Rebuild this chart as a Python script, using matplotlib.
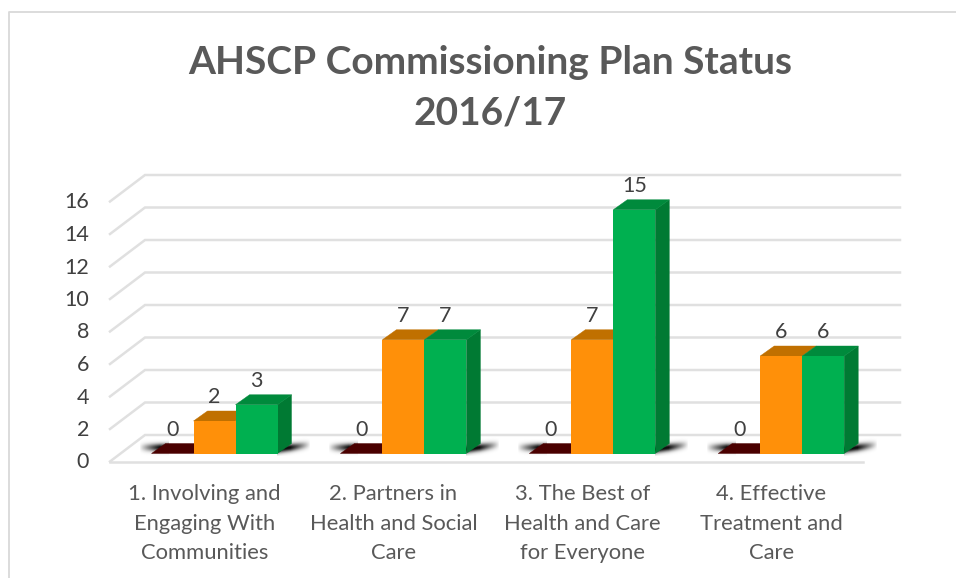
import numpy as np
import matplotlib
matplotlib.use('Agg')
import matplotlib.pyplot as plt
from matplotlib.patches import Polygon
from matplotlib.transforms import Affine2D

WDTH = 956
HGHT = 578

categories = ['1. Involving and\nEngaging With\nCommunities',
              '2. Partners in\nHealth and Social\nCare',
              '3. The Best of\nHealth and Care\nfor Everyone',
              '4. Effective\nTreatment and\nCare']
red_vals = [0, 0, 0, 0]
orange_vals = [2, 7, 7, 6]
green_vals = [3, 7, 15, 6]
y_ticks = [0, 2, 4, 6, 8, 10, 12, 14, 16]
title_lines = ['AHSCP Commissioning Plan Status', '2016/17']

plt.rcParams['font.family'] = ['Lato', 'DejaVu Sans']
TXT = '#404040'
GRID = '#e0e0e0'

# bar plane in pixels
PX_X = 188.9
PX_Y = 16.25
X0 = 214.5
Y0 = 453.5
BW = 42.0 / PX_X
DX, DY = 14, 10

fig = plt.figure(figsize=(WDTH / 100, HGHT / 100), dpi=100)

# background in pixel coords: frame and walls
bg = fig.add_axes([0, 0, 1, 1])
bg.axis('off')
bg.plot([9, 9, WDTH], [HGHT, 12, 12], color='#d9d9d9', lw=1.3)

for v in y_ticks:
    yf = 461.5 - PX_Y * v
    yb = 435 - PX_Y * v
    bg.plot([110, 145, 900], [yf, yb, yb], color=GRID, lw=1.8, solid_joinstyle='miter')
    bg.text(89, yf + 1, str(v), ha='right', va='center', fontsize=15.5, color=TXT)
bg.plot([110, 863], [461.5, 461.5], color=GRID, lw=1.8)


def shadow(x0, x1, fade_from, fade_to, slope):
    # blurred floor shadow as a small image, alpha fades along x
    xs = np.arange(x0, x1, 1.0)
    ys = np.arange(Y0 - 16, Y0 + 3, 1.0)
    xx, yy = np.meshgrid(xs, ys)
    fade = np.clip((xx - fade_to) / (fade_from - fade_to), 0, 1)
    centre = Y0 - 6 + slope * (xx - fade_from)
    alpha = fade ** 0.9 * np.exp(-((yy - centre) / 3.8) ** 2)
    rgba = np.zeros(xx.shape + (4,))
    rgba[..., 3] = np.clip(alpha, 0, 1) * 0.95
    bg.imshow(rgba, extent=[x0, x1, ys[-1] + 1, ys[0]], aspect='auto',
              interpolation='bilinear', zorder=3)


for i in range(len(categories)):
    left = X0 + PX_X * i - 63
    right = X0 + PX_X * i + 63
    shadow(left - 16, left + 18, left + 8, left - 12, 0)
    shadow(right, right + 36, right + 13, right + 33, -0.15)

bg.set_xlim(0, WDTH)
bg.set_ylim(HGHT, 0)

ax = fig.add_axes([(X0 - PX_X / 2) / WDTH, 1 - Y0 / HGHT,
                   4 * PX_X / WDTH, 16 * PX_Y / HGHT])
ax.set_xlim(-0.5, 3.5)
ax.set_ylim(0, 16)
ax.axis('off')
ax.patch.set_alpha(0)

x = np.arange(len(categories))


def top_face(xl, xr, v, col, z):
    # parallelogram from front edge to back edge, depth added in display space
    p0 = ax.transData.transform([(xl, v), (xr, v)])
    pts = [p0[0], p0[1], p0[1] + [DX, DY], p0[0] + [DX, DY]]
    ax.add_patch(Polygon(pts, closed=True, transform=None, fc=col, ec=col, lw=0.3, zorder=z))


def side_face(xr, v, col, z):
    p0 = ax.transData.transform([(xr, 0), (xr, v)])
    pts = [p0[0], p0[1], p0[1] + [DX, DY], p0[0] + [DX, DY]]
    ax.add_patch(Polygon(pts, closed=True, transform=None, fc=col, ec=col, lw=0.3, zorder=z))


for i in x:
    xr = x[i] - BW
    xo = x[i]
    xg = x[i] + BW
    top_face(xr - BW / 2, xr + BW / 2, red_vals[i], '#4a0000', 2)
    side_face(xg + BW / 2, green_vals[i], '#007a33', 2)
    top_face(xo - BW / 2, xo + BW / 2, orange_vals[i], '#c07000', 3)
    top_face(xg - BW / 2, xg + BW / 2, green_vals[i], '#008a3c', 3)

ax.bar(x, orange_vals, width=BW, color='#ff9009', zorder=4, clip_on=False)
ax.bar(x + BW, green_vals, width=BW, color='#00b050', zorder=4, clip_on=False)

lab_tr = ax.transData + Affine2D().translate(0, 24)
for i in x:
    ax.text(x[i] - BW, red_vals[i], str(red_vals[i]), transform=lab_tr,
            ha='center', va='center', fontsize=15.5, color=TXT, zorder=6, clip_on=False)
    ax.text(x[i], orange_vals[i], str(orange_vals[i]), transform=lab_tr,
            ha='center', va='center', fontsize=15.5, color=TXT, zorder=6, clip_on=False)
    ax.text(x[i] + BW, green_vals[i], str(green_vals[i]), transform=lab_tr,
            ha='center', va='center', fontsize=15.5, color=TXT, zorder=6, clip_on=False)
    for j, line in enumerate(categories[i].split('\n')):
        bg.text(X0 - 10 + PX_X * i, 494 + 29.5 * j, line, ha='center', va='center',
                fontsize=15.8, color='#595959')

for j, line in enumerate(title_lines):
    bg.text(490, 63 + 50.5 * j, line, ha='center', va='center', fontsize=28,
            fontweight='bold', color='#595959')

fig.savefig('out.png', dpi=100)
